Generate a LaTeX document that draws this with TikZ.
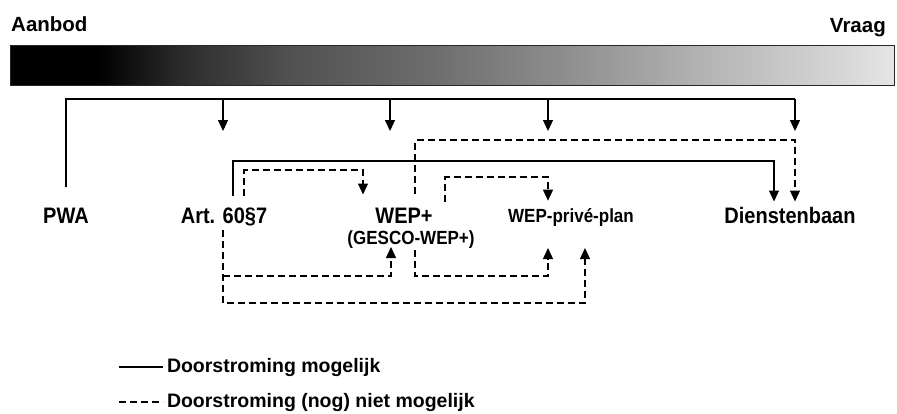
\documentclass[tikz,border=0pt]{standalone}
\usepackage{fontspec}
\setmainfont{Liberation Sans}
\usetikzlibrary{positioning,arrows.meta}
\pgfdeclarehorizontalshading{barshade}{100bp}{color(0bp)=(black); color(30bp)=(black);
  color(35bp)=(black!82); color(41bp)=(black!68); color(49bp)=(black!57);
  color(56bp)=(black!45); color(64bp)=(black!30); color(72bp)=(black!16);
  color(75bp)=(black!10); color(100bp)=(black!10)}
\newcommand{\tall}[1]{\scalebox{1}[1.12]{#1}}
\tikzset{
  conn/.style={line width=1.2pt},
  dconn/.style={conn,dash pattern=on 7pt off 4pt},
  arr/.style={-{Triangle[length=11pt,width=10pt]}},
  hdr/.style={font=\bfseries\fontsize{20.5}{24}\selectfont,inner sep=0pt},
  lbl/.style={font=\bfseries\fontsize{20}{24}\selectfont,inner sep=0pt,
    outer xsep=0pt,outer ysep=7pt,text height=14.5pt,text depth=0pt},
  slbl/.style={lbl,font=\bfseries\fontsize{17}{20}\selectfont,text height=12.3pt},
  leg/.style={font=\bfseries\fontsize{19.5}{23}\selectfont,inner sep=0pt,outer xsep=4pt},
}
\begin{document}
\begin{tikzpicture}[x=1pt,y=-1pt]
  \useasboundingbox (0,0) rectangle (897,413);
  % aanbod -- vraag bar
  \node[hdr,anchor=base west] (aanbod) at (11,31) {Aanbod};
  \node[hdr,anchor=base east] (vraag) at (886,32) {Vraag};
  \shade[shading=barshade] (10,45) rectangle (894,85);
  \draw[line width=0.8pt,black!85] (10,45) rectangle (894,85);
  % measures
  \node[lbl,anchor=base] (pwa) at (66,223) {\tall{PWA}};
  \node[lbl,anchor=base] (art) at (224,223) {\tall{Art. 60§7}};
  \node[lbl,anchor=base] (wep) at (404,223) {\tall{WEP+}};
  \node[slbl,anchor=base,outer ysep=3pt] (gesco) at (411,244) {\tall{(GESCO-WEP+)}};
  \node[slbl,anchor=base] (prive) at (571,222) {\tall{WEP-privé-plan}};
  \node[lbl,anchor=base] (diensten) at (790,223) {\tall{Dienstenbaan}};
  % bracket from the bar
  \coordinate (brl) at (66,99);
  \coordinate (brr) at (795,99);
  \foreach \x/\n in {223/1,390/2,548/3,795/4}{
    \coordinate (top\n) at (\x,99);
    \coordinate (tip\n) at (\x,131);
  }
  \draw[conn,shorten <=15pt] (pwa.north) -- (brl) -- (brr);
  \foreach \n in {1,...,4} \draw[conn,arr] (top\n) -- (tip\n);
  % upper connections
  \coordinate (as) at (233,161);
  \coordinate (ad) at (774,161);
  \draw[conn,arr,shorten <=6pt] (art.north -| as) -- (as) -- (ad) -- (diensten.north -| ad);
  \coordinate (wd) at (415,140);
  \coordinate (wdr) at (795,140);
  \draw[dconn,arr,shorten <=8pt] (wep.north -| wd) -- (wd) -- (wdr) -- (diensten.north -| wdr);
  \coordinate (aw) at (244,170);
  \coordinate (awr) at (363,170);
  \draw[dconn,arr,shorten <=6pt,shorten >=7pt] (art.north -| aw) -- (aw) -- (awr) -- (wep.north -| awr);
  \coordinate (wp) at (445,177);
  \coordinate (wpr) at (548,177);
  \draw[dconn,arr,shorten >=2pt] (wep.north -| wp) -- (wp) -- (wpr) -- (prive.north -| wpr);
  % lower connections
  \coordinate (ap) at (223,303);
  \coordinate (apr) at (585,303);
  \draw[dconn,arr,shorten >=19pt] (art.south -| ap) -- (ap) -- (apr) -- (prive.south -| apr);
  \coordinate (ag) at (223,276);
  \coordinate (agr) at (391,276);
  \draw[dconn,arr] (ag) -- (agr) -- (gesco.south -| agr);
  \coordinate (gp) at (415,276);
  \coordinate (gpr) at (548,276);
  \draw[dconn,arr,shorten <=3pt,shorten >=19pt] (gesco.south -| gp) -- (gp) -- (gpr) -- (prive.south -| gpr);
  % legend
  \node[leg,anchor=base west] (leg1) at (163,372) {Doorstroming mogelijk};
  \node[leg,anchor=base west] (leg2) at (163,407) {Doorstroming (nog) niet mogelijk};
  \coordinate (l1) at (119,367);
  \coordinate (l2) at (119,402);
  \draw[conn] (l1) -- (l1 -| leg1.west);
  \draw[dconn] (l2) -- (l2 -| leg2.west);
\end{tikzpicture}
\end{document}
